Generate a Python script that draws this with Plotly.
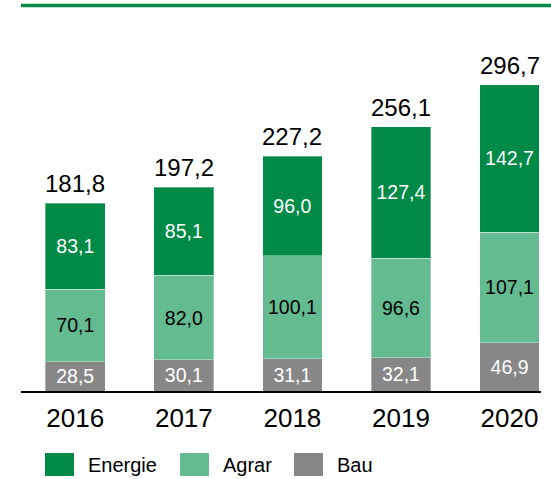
import plotly.graph_objects as go

years = ["2016", "2017", "2018", "2019", "2020"]
bau = [28.5, 30.1, 31.1, 32.1, 46.9]
agrar = [70.1, 82.0, 100.1, 96.6, 107.1]
energie = [83.1, 85.1, 96.0, 127.4, 142.7]
totals = [181.8, 197.2, 227.2, 256.1, 296.7]
series_names = ["Energie", "Agrar", "Bau"]

C_ENERGIE = "#008A47"
C_AGRAR = "#63BB8F"
C_BAU = "#878787"
FONT = "Liberation Sans, Arial, sans-serif"

W, H = 551, 479
L, R = 21, 10
B = 88
YMAX = 310
PLOT_H = 320
T = H - B - PLOT_H
PW = W - L - R


def px(x):
    return (x - L) / PW


def py(y):
    return (H - B - y) / PLOT_H


def fmt(v):
    return f"{v:.1f}".replace(".", ",")


fig = go.Figure()
edge = dict(color="rgba(255,255,255,0.35)", width=1)
fig.add_trace(go.Bar(x=years, y=bau, name="Bau", marker=dict(color=C_BAU, line=edge),
                     text=[fmt(v) for v in bau], textposition="inside",
                     insidetextanchor="middle", textangle=0, constraintext="none",
                     textfont=dict(color="white", size=19.5, family=FONT), showlegend=False))
fig.add_trace(go.Bar(x=years, y=agrar, name="Agrar", marker=dict(color=C_AGRAR, line=edge),
                     text=[fmt(v) for v in agrar], textposition="inside",
                     insidetextanchor="middle", textangle=0, constraintext="none",
                     textfont=dict(color="black", size=19.5, family=FONT), showlegend=False))
fig.add_trace(go.Bar(x=years, y=energie, name="Energie", marker=dict(color=C_ENERGIE, line=edge),
                     text=[fmt(v) for v in energie], textposition="inside",
                     insidetextanchor="middle", textangle=0, constraintext="none",
                     textfont=dict(color="white", size=19.5, family=FONT), showlegend=False))

annotations = []
for i, t in enumerate(totals):
    annotations.append(dict(x=i, y=t, xref="x", yref="y", text=fmt(t), showarrow=False,
                            yanchor="bottom", yshift=4,
                            font=dict(size=24, color="black", family=FONT)))

shapes = [dict(type="line", xref="paper", yref="paper", x0=px(21), x1=px(551),
               y0=py(5.5), y1=py(5.5), line=dict(color="#008C45", width=3.5))]

legend_items = [("Energie", C_ENERGIE, 45, 86), ("Agrar", C_AGRAR, 180, 221), ("Bau", C_BAU, 294, 335)]
for name, col, sx, tx in legend_items:
    shapes.append(dict(type="rect", xref="paper", yref="paper", x0=px(sx), x1=px(sx + 29),
                       y0=py(476), y1=py(453), fillcolor=col, line=dict(width=0)))
    annotations.append(dict(x=px(tx), y=py(464.5), xref="paper", yref="paper", text=name,
                            showarrow=False, xanchor="left", yanchor="middle",
                            font=dict(size=20, color="black", family=FONT)))

fig.update_layout(
    width=W, height=H,
    margin=dict(l=L, r=R, t=T, b=B, pad=0),
    barmode="stack", bargap=0.45,
    plot_bgcolor="white", paper_bgcolor="white",
    separators=",.",
    font=dict(family=FONT, color="black"),
    showlegend=False,
    annotations=annotations, shapes=shapes,
    xaxis=dict(type="category", range=[-0.5, 4.29], showline=True, linecolor="black", linewidth=2,
               ticks="", showgrid=False, tickfont=dict(size=26, color="black", family=FONT),
               ticklabelstandoff=3, fixedrange=True),
    yaxis=dict(range=[0, YMAX], visible=False, showgrid=False, fixedrange=True),
)

fig.write_html("out.html", config={"displayModeBar": False},
               post_script="document.body.style.margin='0';document.body.style.overflow='hidden';")
